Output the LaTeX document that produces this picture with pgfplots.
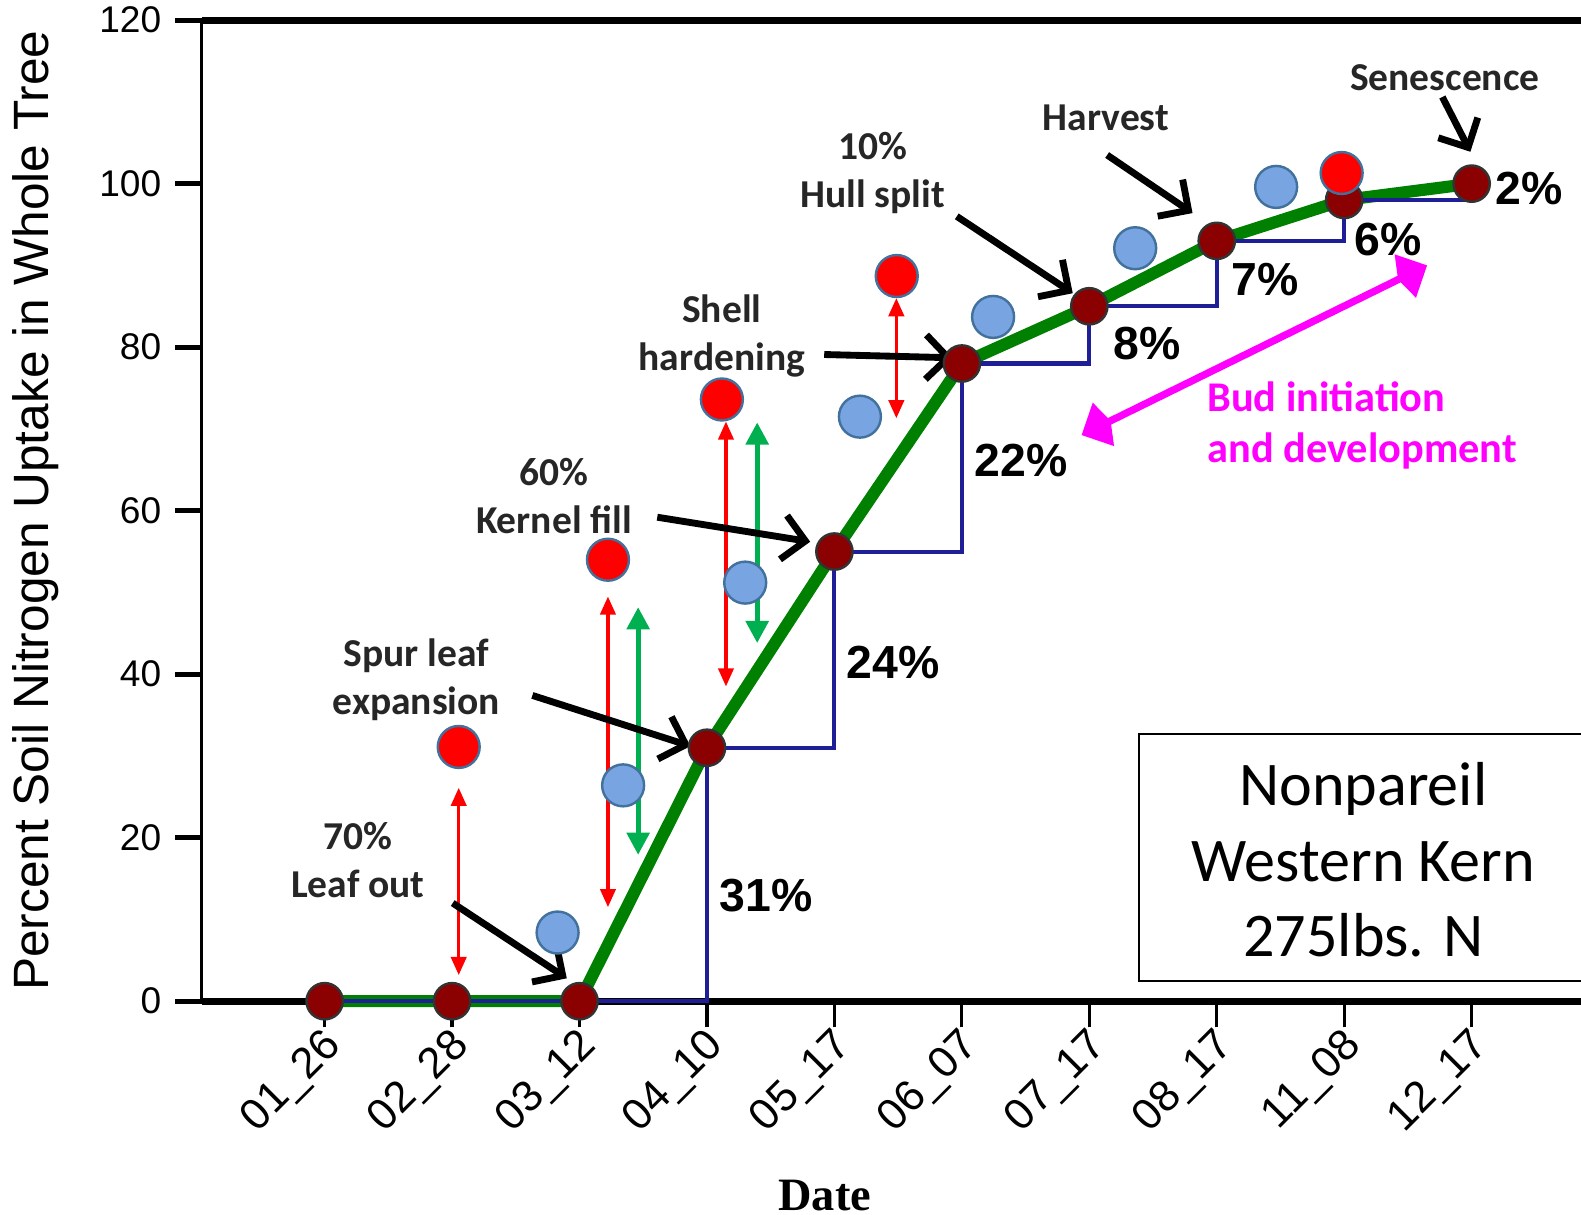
\documentclass[border=0pt]{standalone}
\usepackage{fontspec}
\setmainfont{Liberation Sans}
\newfontfamily\carlito{Carlito}
\newfontfamily\serifb{Liberation Serif}
\usepackage{pgfplots}
\usepackage{pgfplotstable}
\pgfplotsset{compat=1.18}
\usetikzlibrary{arrows.meta}

\definecolor{lgreen}{RGB}{0,128,0}
\definecolor{agreen}{RGB}{0,176,80}
\definecolor{navy}{RGB}{30,30,150}
\definecolor{dred}{RGB}{139,0,0}
\definecolor{ballblue}{RGB}{120,165,225}
\definecolor{edgeblue}{RGB}{65,113,156}
\definecolor{mag}{RGB}{255,0,255}

\pgfplotstableread{
x y
0 0
1 0
2 0
3 31
4 55
5 78
6 85
7 93
8 98
9 100
}\uptake

\begin{document}
\begin{tikzpicture}
\useasboundingbox (0,0) rectangle (392pt,301.25pt);
\clip (0,0) rectangle (392pt,301.25pt);
\begin{axis}[
  at={(50pt,53pt)}, anchor=south west,
  scale only axis, width=342pt, height=243.25pt,
  xmin=-0.965, xmax=9.858, ymin=0, ymax=120,
  clip=false,
  axis x line=box, axis y line=left,
  x axis line style={line width=1.8pt,-},
  y axis line style={line width=0.8pt,-},
  xtick={0,...,9},
  xticklabels={01\_26,02\_28,03\_12,04\_10,05\_17,06\_07,07\_17,08\_17,11\_08,12\_17},
  ytick={0,20,...,120},
  tick align=outside, xtick pos=left, ytick pos=left,
  major tick length=6.5pt,
  xtick style={line width=0.8pt, black},
  ytick style={line width=1.3pt, black},
  /pgf/number format/assume math mode=true,
  yticklabel style={font=\fontsize{9.2}{10}\selectfont},
  xticklabel style={font=\fontsize{10.8}{12}\selectfont, rotate=45, anchor=east, xshift=3.2pt, yshift=-4pt},
  ylabel={Percent Soil Nitrogen Uptake in Whole Tree},
  ylabel style={font=\fontsize{12.3}{14}\selectfont, at={(axis description cs:-0.1206,0.5)}, anchor=center},
  xlabel={Date},
  xlabel style={font=\serifb\bfseries\fontsize{11.5}{13}\selectfont, at={(axis description cs:0.4518,-0.198)}, anchor=center},
]
% main cumulative line
\addplot[color=lgreen, line width=3pt, no marks] table {\uptake};
\addplot[only marks, mark=*, mark size=4.5pt, mark options={fill=dred, draw=black!80, line width=0.6pt}] table {\uptake};
\addplot[const plot, color=navy, line width=1pt, no marks] table {\uptake};

% blue circles
\addplot[only marks, mark=*, mark size=5.2pt, mark options={fill=ballblue, draw=edgeblue, line width=0.6pt}]
  coordinates {(1.828,8.4)(2.342,26.4)(3.30,51.2)(4.20,71.5)(5.245,83.7)(6.36,92.1)(7.466,99.6)};
% red circles
\addplot[only marks, mark=*, mark size=5.2pt, mark options={fill=red, draw=edgeblue, line width=0.6pt}]
  coordinates {(1.052,31.1)(2.223,54.0)(3.117,73.6)(4.489,88.7)(7.98,101.3)};

% red double arrows
\addplot[red, line width=0.8pt, no marks, {Triangle[length=4.5pt,width=3.8pt]}-{Triangle[length=4.5pt,width=3.8pt]}] coordinates {(1.052,26.1)(1.052,3.2)};
\addplot[red, line width=0.8pt, no marks, {Triangle[length=4.5pt,width=3.8pt]}-{Triangle[length=4.5pt,width=3.8pt]}] coordinates {(2.223,49.5)(2.223,11.5)};
\addplot[red, line width=0.8pt, no marks, {Triangle[length=4.5pt,width=3.8pt]}-{Triangle[length=4.5pt,width=3.8pt]}] coordinates {(3.149,70.9)(3.149,38.5)};
\addplot[red, line width=0.8pt, no marks, {Triangle[length=4.5pt,width=3.8pt]}-{Triangle[length=4.5pt,width=3.8pt]}] coordinates {(4.486,86.0)(4.486,71.3)};
% green double arrows
\addplot[agreen, line width=1.3pt, no marks, {Triangle[length=5.5pt,width=5.5pt]}-{Triangle[length=5.5pt,width=5.5pt]}] coordinates {(2.46,48.2)(2.46,17.9)};
\addplot[agreen, line width=1.3pt, no marks, {Triangle[length=5.5pt,width=5.5pt]}-{Triangle[length=5.5pt,width=5.5pt]}] coordinates {(3.394,70.8)(3.394,43.8)};

% magenta arrow
\draw[mag, line width=1.8pt, {Kite[length=8pt,width=12pt,inset=2pt]}-{Kite[length=8pt,width=12pt,inset=2pt]}] (axis cs:5.94,69.25) -- (axis cs:8.65,90.0);
\node[mag, anchor=west, inner sep=0pt, align=left, font=\carlito\bfseries\fontsize{10.5}{12.5}\selectfont] at (axis cs:6.92,70.45) {Bud initiation\\and development};

% stage annotations
\tikzset{ann/.style={align=center, text=black!85, font=\carlito\bfseries\fontsize{9.8}{12}\selectfont},
         barr/.style={line width=1.7pt, -{Straight Barb[length=5.5pt,width=11pt]}}}
\node[ann] at (axis cs:0.261,17.3) {70\%\\Leaf out};
\draw[barr] (axis cs:1.005,12.0) -- (axis cs:1.90,2.8);
\node[ann] at (axis cs:0.72,39.3) {Spur leaf\\expansion};
\draw[barr] (axis cs:1.63,37.4) -- (axis cs:2.87,31.2);
\node[ann] at (axis cs:1.80,61.8) {60\%\\Kernel fill};
\draw[barr] (axis cs:2.61,59.2) -- (axis cs:3.81,56.2);
\node[ann] at (axis cs:3.117,81.4) {Shell\\hardening};
\draw[barr] (axis cs:3.92,79.1) -- (axis cs:4.93,78.7);
\node[ann] at (axis cs:4.30,101.3) {10\%\\Hull split};
\draw[barr] (axis cs:4.96,96.0) -- (axis cs:5.87,86.6);
\node[ann] at (axis cs:6.13,108.0) {Harvest};
\draw[barr] (axis cs:6.14,103.5) -- (axis cs:6.81,96.4);
\node[ann] at (axis cs:8.79,113.0) {Senescence};
\draw[barr] (axis cs:8.77,110.6) -- (axis cs:8.99,103.9);

% percentage labels
\tikzset{pct/.style={font=\bfseries\fontsize{11.5}{13}\selectfont}}
\node[pct] at (axis cs:3.465,12.95) {31\%};
\node[pct] at (axis cs:4.462,41.4) {24\%};
\node[pct] at (axis cs:5.467,66.1) {22\%};
\node[pct] at (axis cs:6.456,80.5) {8\%};
\node[pct] at (axis cs:7.381,88.3) {7\%};
\node[pct] at (axis cs:8.347,93.2) {6\%};
\node[pct] at (axis cs:9.454,99.4) {2\%};

% info box
\draw[line width=0.6pt, fill=white] (axis cs:6.39,2.47) rectangle (axis cs:11,32.7);
\node[align=center, font=\carlito\fontsize{15.4}{18.75}\selectfont] at (axis cs:8.15,17.27) {Nonpareil\\Western Kern\\275lbs. N};
\end{axis}
\end{tikzpicture}
\end{document}
